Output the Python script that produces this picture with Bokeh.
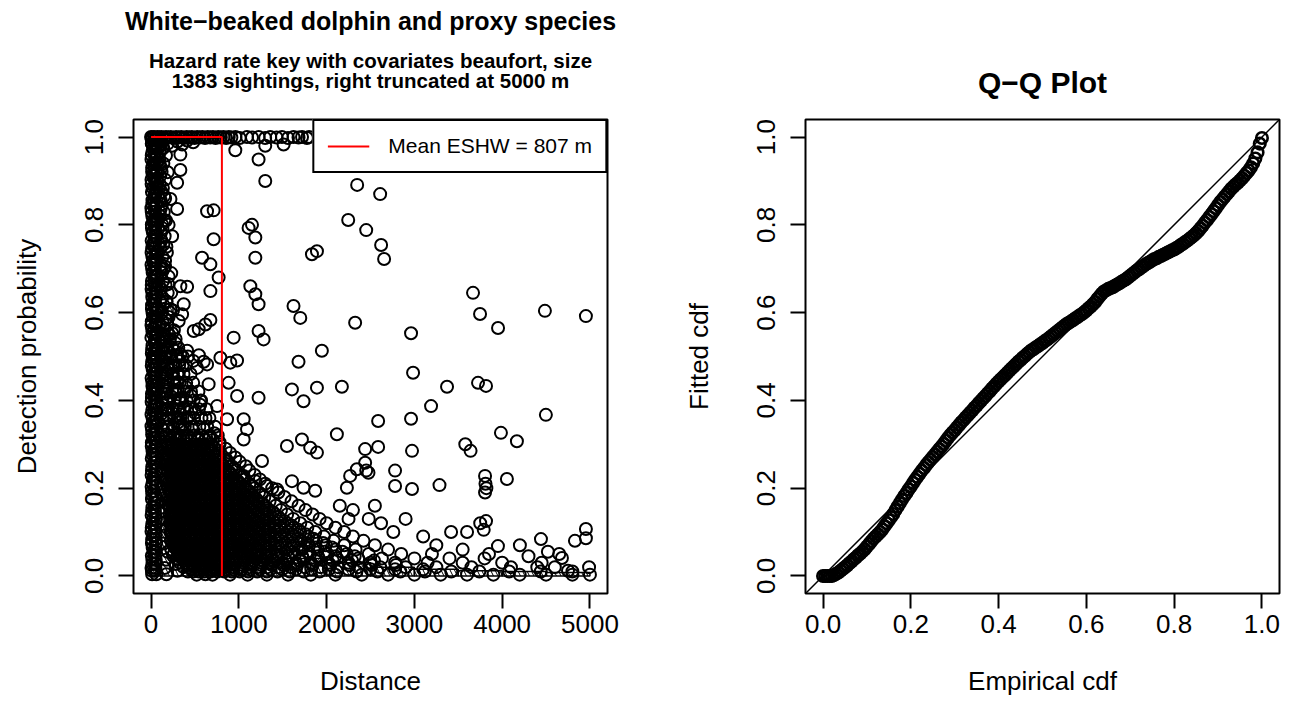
from bokeh.plotting import figure
from bokeh.layouts import row
from bokeh.models import Range1d, FixedTicker, LinearAxis, Legend, LegendItem, Slope, NumeralTickFormatter
from bokeh.embed import file_html
from bokeh.resources import INLINE

FONT = "Liberation Sans"

# ---------------- data ----------------
x_ticks = [0, 1000, 2000, 3000, 4000, 5000]
x_tick_labels = ["0", "1000", "2000", "3000", "4000", "5000"]
p_ticks = [0.0, 0.2, 0.4, 0.6, 0.8, 1.0]
p_tick_labels = ["0.0", "0.2", "0.4", "0.6", "0.8", "1.0"]

eshw = 807  # mean effective strip half width (m)

hist_edges = [0, 250, 500, 750, 1000, 1500, 2000, 2500, 3000, 3500, 4000, 4500, 5000]
hist_heights = [0.62, 0.30, 0.16, 0.10, 0.06, 0.04, 0.03, 0.02, 0.015, 0.012, 0.010, 0.008]

top_points = [(0, 1.0), (15, 0.999), (35, 1.0), (55, 0.998), (75, 1.0), (95, 0.999), (120, 1.0), (145, 0.998),
              (170, 1.0), (195, 0.999), (225, 1.0), (255, 0.998), (285, 1.0), (315, 0.999), (345, 1.0),
              (375, 0.998), (405, 1.0), (435, 0.999), (465, 1.0), (495, 0.998), (525, 1.0), (555, 0.999),
              (585, 1.0), (615, 0.998), (645, 1.0), (675, 0.999), (705, 1.0), (735, 0.998), (765, 1.0),
              (795, 0.999), (825, 1.0), (855, 0.998), (885, 1.0), (915, 0.999), (962, 1.0), (1010, 0.998),
              (1093, 1.0), (1150, 0.999), (1225, 1.0), (1300, 0.998), (1358, 1.0), (1430, 0.999),
              (1491, 1.0), (1560, 0.998), (1623, 1.0), (1680, 0.999), (1720, 1.0), (1776, 0.998), (1800, 1.0),
              (10, 0.985), (50, 0.98), (90, 0.99), (140, 0.975), (190, 0.985), (240, 0.98), (300, 0.99),
              (410, 0.992), (480, 0.988)]

col_y = [0.995, 0.975, 0.958, 0.94, 0.921, 0.903, 0.884, 0.866, 0.847, 0.829, 0.81, 0.792, 0.774, 0.755,
         0.737, 0.718, 0.7, 0.682, 0.663, 0.645, 0.626, 0.608, 0.59, 0.571, 0.553, 0.534, 0.516, 0.497,
         0.479, 0.461, 0.442, 0.424, 0.405, 0.387, 0.368, 0.35, 0.332, 0.313, 0.295, 0.276, 0.258, 0.24,
         0.221, 0.203, 0.184, 0.166, 0.147, 0.129, 0.11, 0.092, 0.074, 0.055, 0.037, 0.018, 0.004]
col_xa = [10, 25, 8, 30, 12, 5, 20, 35, 15, 8, 28, 10, 40, 18, 6, 22, 12, 35, 8, 15, 30, 10, 25, 5, 18, 40,
          12, 20, 8, 30, 15, 25, 10, 35, 5, 20, 12, 28, 8, 18, 30, 10, 22, 6, 15, 35, 12, 25, 8, 20, 10, 30,
          15, 5, 12]
col_xb = [70, 85, 60, 95, 75, 65, 90, 80, 55, 100, 70, 85, 60, 95, 78, 68, 110, 72, 90, 62, 105, 80, 66, 95,
          75, 115, 85, 70, 100, 120, 90, 78, 130, 95, 110, 85, 140, 100, 120, 150, 110, 130, 160, 120, 140,
          170, 150, 135, 180, 160, 145, 190, 170, 155, 175]
col_xc = [150, 130, 170, 140, 120, 160, 135, 150, 125, 145, 170, 130, 155, 140, 180, 160, 145, 200, 165, 190,
          175, 220, 200, 185, 240, 210, 260, 230, 280, 250, 300, 270, 320, 290, 340, 310, 360, 330, 400, 350,
          420, 380, 450, 410, 480, 440, 520, 470, 560, 500, 600, 540, 640, 580, 620]
col_xd = [45, 55, 40, 60, 50, 42, 58, 48, 62, 44, 52, 46, 56, 40, 60, 50, 44, 58, 48, 54, 42, 60, 46, 52,
          56, 44, 62, 48, 50, 58, 40, 54, 46, 60, 50, 44, 56, 48, 62, 42, 52, 58, 46, 54, 50, 60, 44, 56, 48,
          52, 58, 46, 54, 50, 60]

col2_y = [0.985, 0.966, 0.949, 0.93, 0.912, 0.893, 0.875, 0.856, 0.838, 0.82, 0.801, 0.783, 0.764, 0.746,
          0.727, 0.709, 0.691, 0.672, 0.654, 0.635, 0.617, 0.599, 0.58, 0.562, 0.543, 0.525, 0.507, 0.488,
          0.47, 0.451, 0.433, 0.415, 0.396, 0.378, 0.359, 0.341, 0.322, 0.304, 0.285, 0.267, 0.249, 0.23,
          0.212, 0.193, 0.175, 0.156, 0.138, 0.119, 0.101, 0.083, 0.064, 0.046, 0.027, 0.012]
col2_xa = [40, 45, 50, 38, 42, 55, 48, 35, 45, 52, 40, 48, 36, 44, 50, 42, 46, 38, 52, 44, 40, 48, 55, 36,
           45, 50, 42, 38, 48, 45, 52, 40, 46, 36, 50, 44, 42, 48, 38, 52, 45, 40, 50, 36, 46, 44, 48, 42, 38,
           50, 45, 40, 52, 44]
col2_xb = [110, 100, 95, 115, 105, 98, 120, 108, 112, 102, 125, 110, 118, 104, 130, 114, 122, 135, 110, 128,
           140, 118, 132, 150, 125, 145, 160, 138, 155, 170, 148, 165, 180, 160, 175, 195, 170, 190, 210, 185,
           205, 230, 200, 220, 250, 215, 240, 270, 235, 260, 290, 250, 280, 300]
col2_xc = [8, 15, 5, 12, 18, 6, 10, 16, 4, 14, 9, 20, 7, 12, 15, 5, 18, 10, 6, 14, 11, 17, 8, 13, 4, 16, 9,
           12, 19, 6, 15, 10, 7, 14, 18, 5, 12, 9, 16, 8, 13, 6, 17, 11, 10, 15, 7, 14, 5, 12, 18, 9, 16, 10]

mid_points = [(165, 0.585), (205, 0.55), (250, 0.605), (185, 0.52), (230, 0.5), (280, 0.53), (320, 0.49),
              (205, 0.47), (260, 0.45), (310, 0.462), (360, 0.48), (420, 0.5), (480, 0.49), (545, 0.503),
              (600, 0.488), (175, 0.43), (222, 0.41), (282, 0.422), (340, 0.4), (400, 0.43), (460, 0.41),
              (195, 0.38), (250, 0.37), (310, 0.36), (370, 0.383), (430, 0.362), (500, 0.372), (560, 0.39),
              (620, 0.36), (180, 0.34), (240, 0.33), (300, 0.322), (360, 0.342), (420, 0.32), (480, 0.332),
              (540, 0.315), (600, 0.335), (660, 0.315), (720, 0.325), (780, 0.305), (175, 0.625),
              (195, 0.665), (160, 0.705), (230, 0.645), (150, 0.49), (260, 0.56), (215, 0.6), (140, 0.55),
              (175, 0.75), (200, 0.8), (160, 0.86), (190, 0.92), (150, 0.81), (230, 0.69)]

sparse_points = [(354, 0.983), (334, 0.96), (960, 0.97), (1225, 0.949), (1301, 0.9), (1510, 0.983), (1301, 0.98),
                 (334, 0.925), (297, 0.896), (221, 0.859), (297, 0.836), (638, 0.831), (713, 0.833),
                 (1111, 0.793), (1150, 0.8), (1188, 0.771), (713, 0.767), (240, 0.774), (581, 0.725),
                 (676, 0.71), (1188, 0.725), (1833, 0.733), (1890, 0.74), (770, 0.68), (676, 0.649),
                 (334, 0.66), (411, 0.659), (1131, 0.66), (1188, 0.642), (1225, 0.619), (372, 0.619),
                 (354, 0.596), (315, 0.581), (486, 0.558), (543, 0.562), (619, 0.573), (676, 0.583),
                 (941, 0.543), (1225, 0.558), (1282, 0.539), (1623, 0.615), (1700, 0.588), (2325, 0.577),
                 (1946, 0.513), (1680, 0.488), (980, 0.491), (903, 0.486), (790, 0.497), (638, 0.482),
                 (524, 0.474), (411, 0.513), (334, 0.505), (1605, 0.425), (1737, 0.398), (1890, 0.429),
                 (2174, 0.431), (1225, 0.406), (884, 0.44), (980, 0.41), (752, 0.387), (656, 0.437),
                 (562, 0.399), (1055, 0.357), (1093, 0.334), (1055, 0.311), (866, 0.357), (1548, 0.296),
                 (1719, 0.311), (1813, 0.292), (1890, 0.281), (2117, 0.323), (2439, 0.289), (1264, 0.262),
                 (2439, 0.258), (2345, 0.243), (2477, 0.235), (2268, 0.228), (2231, 0.201), (1605, 0.216),
                 (1737, 0.201), (1870, 0.194), (1435, 0.197), (1321, 0.205), (1055, 0.228), (1188, 0.216),
                 (2348, 0.891), (2610, 0.87), (2246, 0.811), (2451, 0.788), (2621, 0.754), (2655, 0.722),
                 (3668, 0.645), (3748, 0.597), (3953, 0.565), (4487, 0.604), (4954, 0.592), (2962, 0.553),
                 (2985, 0.463), (3372, 0.431), (3725, 0.44), (3816, 0.433), (3190, 0.387), (2962, 0.358),
                 (2587, 0.353), (3580, 0.3), (3640, 0.285), (3986, 0.326), (4168, 0.307), (4498, 0.367),
                 (2973, 0.285), (2780, 0.24), (3805, 0.228), (3810, 0.21), (3820, 0.2), (4054, 0.221),
                 (3805, 0.19), (3286, 0.207), (2973, 0.198), (2780, 0.205), (2451, 0.24), (2587, 0.294),
                 (3750, 0.12), (3816, 0.125), (3790, 0.105), (4954, 0.107), (4954, 0.086), (4442, 0.084),
                 (4829, 0.08), (3600, 0.1), (3418, 0.1), (3952, 0.068), (4202, 0.07), (4521, 0.055),
                 (4681, 0.041), (2150, 0.16), (2300, 0.15), (2480, 0.13), (2620, 0.12), (2760, 0.1),
                 (2250, 0.13), (2550, 0.16), (2900, 0.13), (3100, 0.09), (3250, 0.07), (3550, 0.06),
                 (3850, 0.05), (4300, 0.045), (4650, 0.05), (4400, 0.02), (4750, 0.012)]

mid_rows = [
    (0.54, [160, 215, 280]),
    (0.52, [175, 240, 310]),
    (0.50, [165, 225, 290, 360]),
    (0.48, [185, 250, 320, 395]),
    (0.46, [170, 235, 300, 370, 450]),
    (0.44, [190, 255, 325, 400, 480]),
    (0.42, [175, 240, 305, 375, 455, 540]),
    (0.40, [195, 260, 330, 405, 485, 570]),
    (0.38, [180, 245, 310, 380, 460, 545, 630]),
    (0.36, [200, 265, 335, 410, 490, 575, 665]),
    (0.34, [185, 250, 315, 385, 465, 550, 640, 730]),
    (0.32, [205, 270, 340, 415, 495, 580, 670, 760]),
    (0.31, [230, 300, 375, 450, 530, 615, 705]),
]

low_rows = [
    (0.30, [170, 230, 290, 350, 415, 480, 545, 610, 690, 780]),
    (0.295, [185, 245, 310, 375, 440, 505, 575, 650]),
    (0.29, [200, 260, 320, 385, 450, 515, 580, 650, 730, 850]),
    (0.285, [215, 275, 340, 405, 470, 535, 605, 680, 760]),
    (0.28, [175, 235, 295, 360, 425, 490, 555, 625, 700, 790, 900]),
    (0.275, [190, 250, 315, 380, 445, 510, 580, 655, 735]),
    (0.27, [205, 265, 330, 395, 460, 525, 595, 665, 745, 830, 960]),
    (0.265, [220, 280, 345, 410, 475, 540, 610, 685, 765, 860]),
    (0.26, [180, 240, 300, 365, 430, 495, 560, 630, 705, 785, 870, 1010]),
    (0.255, [195, 255, 320, 385, 450, 515, 585, 655, 730, 810]),
    (0.25, [210, 270, 335, 400, 465, 530, 600, 670, 745, 825, 920, 1080]),
    (0.245, [225, 285, 350, 415, 480, 545, 615, 690, 765, 850, 940]),
    (0.24, [185, 245, 305, 370, 435, 500, 565, 635, 710, 790, 875, 970, 1120]),
    (0.235, [200, 260, 325, 390, 455, 520, 590, 660, 735, 815, 900]),
    (0.23, [215, 275, 340, 405, 470, 535, 605, 675, 750, 830, 915, 1020, 1180]),
    (0.225, [230, 290, 355, 420, 485, 550, 620, 695, 770, 855, 945, 1040]),
    (0.22, [190, 250, 310, 375, 440, 505, 570, 640, 715, 795, 880, 970, 1070, 1240]),
    (0.215, [205, 265, 330, 395, 460, 525, 595, 665, 740, 820, 905, 995]),
    (0.21, [220, 280, 345, 410, 475, 540, 610, 680, 755, 835, 920, 1010, 1120, 1300]),
    (0.205, [235, 295, 360, 425, 490, 555, 625, 700, 775, 860, 950, 1045, 1150]),
    (0.20, [195, 255, 315, 380, 445, 510, 575, 645, 720, 800, 885, 975, 1070, 1180, 1380]),
    (0.195, [210, 270, 335, 400, 465, 530, 600, 670, 745, 825, 910, 1000, 1100]),
    (0.19, [225, 285, 350, 415, 480, 545, 615, 685, 760, 840, 925, 1015, 1110, 1230, 1450]),
    (0.185, [240, 300, 365, 430, 495, 560, 630, 705, 780, 865, 955, 1050, 1150, 1260]),
    (0.18, [200, 260, 320, 385, 450, 515, 580, 650, 725, 805, 890, 980, 1070, 1170, 1290, 1520]),
    (0.175, [215, 275, 340, 405, 470, 535, 605, 675, 750, 830, 915, 1005, 1100, 1200]),
    (0.17, [230, 290, 355, 420, 485, 550, 620, 690, 765, 845, 930, 1020, 1115, 1220, 1350, 1600]),
    (0.165, [245, 305, 370, 435, 500, 565, 635, 710, 785, 870, 960, 1055, 1155, 1270]),
    (0.16, [205, 265, 325, 390, 455, 520, 585, 655, 730, 810, 895, 985, 1075, 1175, 1290, 1420, 1680]),
    (0.155, [220, 280, 345, 410, 475, 540, 610, 680, 755, 835, 920, 1010, 1105, 1210, 1320]),
    (0.15, [235, 295, 360, 425, 490, 555, 625, 695, 770, 850, 935, 1025, 1120, 1225, 1340, 1480, 1760]),
    (0.145, [250, 310, 375, 440, 505, 570, 640, 715, 790, 875, 965, 1060, 1160, 1270, 1390]),
    (0.14, [210, 270, 330, 395, 460, 525, 590, 660, 735, 815, 900, 990, 1080, 1180, 1290, 1410, 1550, 1840]),
    (0.135, [225, 285, 350, 415, 480, 545, 615, 685, 760, 840, 925, 1015, 1110, 1215, 1330, 1450]),
    (0.13, [240, 300, 365, 430, 495, 560, 630, 700, 775, 855, 940, 1030, 1125, 1230, 1345, 1470, 1620, 1920]),
    (0.125, [255, 315, 380, 445, 510, 575, 645, 720, 795, 880, 970, 1065, 1165, 1275, 1390, 1520]),
    (0.12, [215, 275, 335, 400, 465, 530, 595, 665, 740, 820, 905, 995, 1085, 1185, 1295, 1415, 1550, 1700,
            2000]),
    (0.115, [230, 290, 355, 420, 485, 550, 620, 690, 765, 845, 930, 1020, 1115, 1220, 1335, 1460, 1600]),
    (0.11, [245, 305, 370, 435, 500, 565, 635, 705, 780, 860, 945, 1035, 1130, 1235, 1350, 1475, 1620, 1780,
            2100]),
    (0.105, [260, 320, 385, 450, 515, 580, 650, 725, 800, 885, 975, 1070, 1170, 1280, 1400, 1530, 1680]),
    (0.10, [220, 280, 340, 405, 470, 535, 600, 670, 745, 825, 910, 1000, 1090, 1190, 1300, 1420, 1555, 1700,
            1870, 2200]),
    (0.095, [235, 295, 360, 425, 490, 555, 625, 695, 770, 850, 935, 1025, 1120, 1225, 1340, 1465, 1610, 1760]),
    (0.09, [250, 310, 375, 440, 505, 570, 640, 710, 785, 865, 950, 1040, 1135, 1240, 1355, 1480, 1625, 1790,
            1970, 2300]),
    (0.085, [265, 325, 390, 455, 520, 585, 655, 730, 805, 890, 980, 1075, 1175, 1285, 1405, 1540, 1690, 1850]),
    (0.08, [225, 285, 345, 410, 475, 540, 605, 675, 750, 830, 915, 1005, 1095, 1195, 1305, 1425, 1560, 1710,
            1880, 2080, 2420]),
    (0.075, [240, 300, 365, 430, 495, 560, 630, 700, 775, 855, 940, 1030, 1125, 1230, 1345, 1470, 1615, 1780,
             1960]),
    (0.07, [255, 315, 380, 445, 510, 575, 645, 715, 790, 870, 955, 1045, 1140, 1245, 1360, 1485, 1630, 1800,
            1990, 2200, 2550]),
    (0.065, [270, 330, 395, 460, 525, 590, 660, 735, 810, 895, 985, 1080, 1180, 1290, 1410, 1545, 1700, 1870,
             2060]),
    (0.06, [230, 290, 350, 415, 480, 545, 610, 680, 755, 835, 920, 1010, 1100, 1200, 1310, 1430, 1565, 1720,
            1900, 2100, 2330, 2700]),
    (0.055, [305, 365, 430, 495, 560, 630, 705, 780, 860, 945, 1035, 1130, 1235, 1350, 1475, 1620, 1790, 1980,
             2180]),
    (0.05, [260, 320, 385, 450, 515, 580, 650, 720, 795, 875, 960, 1050, 1145, 1250, 1365, 1490, 1640, 1810,
            2010, 2230, 2480, 2850, 3200]),
    (0.045, [340, 400, 465, 530, 600, 670, 745, 825, 910, 1000, 1095, 1195, 1305, 1425, 1560, 1720, 1900, 2100,
             2320]),
    (0.04, [295, 355, 420, 485, 550, 615, 685, 760, 840, 925, 1015, 1105, 1205, 1315, 1435, 1570, 1730, 1910,
            2120, 2360, 2630, 3000, 3400, 3800]),
    (0.035, [380, 440, 505, 575, 645, 720, 800, 885, 975, 1070, 1170, 1280, 1400, 1535, 1690, 1870, 2070, 2290,
             2540]),
    (0.03, [330, 390, 455, 520, 585, 655, 725, 800, 880, 965, 1055, 1150, 1255, 1370, 1500, 1650, 1820, 2020,
            2250, 2500, 2780, 3150, 3550, 4000, 4450]),
    (0.025, [420, 485, 550, 620, 695, 775, 860, 950, 1045, 1145, 1255, 1375, 1510, 1665, 1840, 2040, 2260, 2510,
             2790]),
    (0.02, [370, 430, 495, 560, 625, 695, 770, 850, 935, 1025, 1120, 1220, 1330, 1450, 1590, 1750, 1930, 2130,
            2360, 2610, 2900, 3250, 3650, 4100, 4600, 4990]),
    (0.015, [470, 535, 605, 680, 760, 845, 935, 1030, 1130, 1240, 1360, 1495, 1650, 1825, 2025, 2250, 2500,
             2780, 3100]),
    (0.01, [420, 480, 545, 610, 680, 755, 835, 920, 1010, 1105, 1210, 1320, 1440, 1580, 1740, 1920, 2120, 2340,
            2580, 2840, 3120, 3420, 3740, 4080, 4440, 4800]),
    (0.003, [520, 700, 900, 1100, 1320, 1560, 1820, 2100, 2400, 2700, 3000, 3300, 3600, 3900, 4200, 4500,
             4800, 5000]),
]

qq_empirical = [
    0.000, 0.005, 0.010, 0.015, 0.020, 0.025, 0.030, 0.035, 0.040, 0.045, 0.050, 0.055, 0.060, 0.065, 0.070,
    0.075, 0.080, 0.085, 0.090, 0.095, 0.100, 0.105, 0.110, 0.115, 0.120, 0.125, 0.130, 0.135, 0.140, 0.145,
    0.150, 0.155, 0.160, 0.165, 0.170, 0.175, 0.180, 0.185, 0.190, 0.195, 0.200, 0.205, 0.210, 0.215, 0.220,
    0.225, 0.230, 0.235, 0.240, 0.245, 0.250, 0.255, 0.260, 0.265, 0.270, 0.275, 0.280, 0.285, 0.290, 0.295,
    0.300, 0.305, 0.310, 0.315, 0.320, 0.325, 0.330, 0.335, 0.340, 0.345, 0.350, 0.355, 0.360, 0.365, 0.370,
    0.375, 0.380, 0.385, 0.390, 0.395, 0.400, 0.405, 0.410, 0.415, 0.420, 0.425, 0.430, 0.435, 0.440, 0.445,
    0.450, 0.455, 0.460, 0.465, 0.470, 0.475, 0.480, 0.485, 0.490, 0.495, 0.500, 0.505, 0.510, 0.515, 0.520,
    0.525, 0.530, 0.535, 0.540, 0.545, 0.550, 0.555, 0.560, 0.565, 0.570, 0.575, 0.580, 0.585, 0.590, 0.595,
    0.600, 0.605, 0.610, 0.615, 0.620, 0.625, 0.630, 0.635, 0.640, 0.645, 0.650, 0.655, 0.660, 0.665, 0.670,
    0.675, 0.680, 0.685, 0.690, 0.695, 0.700, 0.705, 0.710, 0.715, 0.720, 0.725, 0.730, 0.735, 0.740, 0.745,
    0.750, 0.755, 0.760, 0.765, 0.770, 0.775, 0.780, 0.785, 0.790, 0.795, 0.800, 0.805, 0.810, 0.815, 0.820,
    0.825, 0.830, 0.835, 0.840, 0.845, 0.850, 0.855, 0.860, 0.865, 0.870, 0.875, 0.880, 0.885, 0.890, 0.895,
    0.900, 0.905, 0.910, 0.915, 0.920, 0.925, 0.930, 0.935, 0.940, 0.945, 0.950, 0.955, 0.960, 0.965, 0.970,
    0.975, 0.980, 0.985, 0.990, 0.995, 1.000]
qq_fitted = [
    0.000, 0.000, 0.000, 0.000, 0.000, 0.002, 0.005, 0.008, 0.012, 0.016, 0.020, 0.024, 0.029, 0.033, 0.038,
    0.042, 0.047, 0.051, 0.056, 0.061, 0.067, 0.073, 0.079, 0.085, 0.090, 0.095, 0.100, 0.106, 0.113, 0.120,
    0.127, 0.134, 0.141, 0.150, 0.158, 0.166, 0.174, 0.182, 0.189, 0.197, 0.204, 0.212, 0.219, 0.226, 0.233,
    0.240, 0.246, 0.253, 0.259, 0.265, 0.271, 0.277, 0.283, 0.289, 0.295, 0.301, 0.308, 0.315, 0.321, 0.327,
    0.332, 0.338, 0.344, 0.350, 0.355, 0.361, 0.366, 0.372, 0.377, 0.383, 0.388, 0.394, 0.399, 0.405, 0.410,
    0.416, 0.421, 0.427, 0.432, 0.438, 0.443, 0.448, 0.453, 0.458, 0.463, 0.468, 0.473, 0.478, 0.483, 0.488,
    0.492, 0.497, 0.501, 0.506, 0.510, 0.514, 0.517, 0.521, 0.524, 0.528, 0.531, 0.535, 0.538, 0.542, 0.546,
    0.550, 0.554, 0.558, 0.562, 0.566, 0.570, 0.574, 0.577, 0.580, 0.583, 0.587, 0.590, 0.594, 0.597, 0.601,
    0.605, 0.610, 0.614, 0.619, 0.624, 0.631, 0.637, 0.643, 0.648, 0.651, 0.654, 0.656, 0.658, 0.661, 0.664,
    0.667, 0.670, 0.673, 0.676, 0.680, 0.684, 0.688, 0.692, 0.696, 0.699, 0.703, 0.706, 0.710, 0.713, 0.716,
    0.719, 0.722, 0.724, 0.727, 0.729, 0.732, 0.734, 0.737, 0.739, 0.742, 0.744, 0.747, 0.750, 0.754, 0.757,
    0.761, 0.764, 0.768, 0.772, 0.776, 0.781, 0.786, 0.792, 0.798, 0.805, 0.811, 0.818, 0.824, 0.831, 0.838,
    0.845, 0.852, 0.858, 0.864, 0.870, 0.876, 0.882, 0.887, 0.892, 0.896, 0.901, 0.906, 0.912, 0.918, 0.924,
    0.931, 0.940, 0.951, 0.965, 0.985, 0.998]

main_title = "White\u2212beaked dolphin and proxy species"
sub_title = "Hazard rate key with covariates beaufort, size\n1383 sightings, right truncated at 5000 m"
qq_title = "Q\u2212Q Plot"

# ---------------- layout constants ----------------
FRAME_W, FRAME_H = 474, 474
LEFT_B, P1_RIGHT_B, P2_RIGHT_B = 133, 65, 3
TOP_B, BOTTOM_B = 119, 125


def style(p, xticks, xlabels, yticks, ylabels, xtitle, ytitle, xfmt):
    p.grid.visible = False
    p.outline_line_color = "black"
    p.outline_line_width = 2
    p.outline_line_alpha = 1
    p.background_fill_color = "white"
    p.border_fill_color = "white"
    p.xaxis.ticker = FixedTicker(ticks=xticks)
    p.yaxis.ticker = FixedTicker(ticks=yticks)
    p.xaxis.formatter = NumeralTickFormatter(format=xfmt)
    p.yaxis.formatter = NumeralTickFormatter(format="0.0")
    p.xaxis.major_label_overrides = {t: l for t, l in zip(xticks, xlabels)}
    p.yaxis.major_label_overrides = {t: l for t, l in zip(yticks, ylabels)}
    for ax in (p.xaxis[0], p.yaxis[0]):
        ax.axis_line_color = None
        ax.major_tick_in = 0
        ax.major_tick_out = 15
        ax.major_tick_line_width = 2
        ax.major_tick_line_color = "black"
        ax.minor_tick_line_color = None
        ax.major_label_text_font = FONT
        ax.major_label_text_font_size = "26px"
        ax.major_label_text_color = "black"
        ax.axis_label_text_font = FONT
        ax.axis_label_text_font_size = "26px"
        ax.axis_label_text_font_style = "normal"
        ax.axis_label_text_color = "black"
    p.xaxis.axis_label = xtitle
    p.yaxis.axis_label = ytitle
    p.xaxis.major_label_standoff = 6
    p.yaxis.major_label_standoff = 15
    p.yaxis.major_label_orientation = "vertical"
    p.xaxis.axis_label_standoff = 30
    p.yaxis.axis_label_standoff = 41


def title_axis(text, size, standoff, line_height=1.2):
    # a tick-less axis above the frame, used only to carry a centred title text
    return LinearAxis(ticker=FixedTicker(ticks=[]), axis_label=text, axis_label_standoff=standoff,
                      axis_label_text_font=FONT, axis_label_text_font_size=size,
                      axis_label_text_font_style="bold", axis_label_text_color="black",
                      axis_label_text_line_height=line_height,
                      axis_line_color=None, major_tick_line_color=None, minor_tick_line_color=None,
                      major_tick_in=0, major_tick_out=0, minor_tick_in=0, minor_tick_out=0,
                      major_label_standoff=0)


common = dict(frame_width=FRAME_W, frame_height=FRAME_H, min_border_top=TOP_B, min_border_bottom=BOTTOM_B,
              min_border_left=LEFT_B, output_backend="svg", toolbar_location=None, tools="")

# ---------------- left panel ----------------
p1 = figure(x_range=Range1d(-200, 5200), y_range=Range1d(-0.04, 1.04), min_border_right=P1_RIGHT_B, **common)
style(p1, x_ticks, x_tick_labels, p_ticks, p_tick_labels, "Distance", "Detection probability", "0")

p1.quad(left=hist_edges[:-1], right=hist_edges[1:], bottom=0, top=hist_heights,
        fill_color=None, line_color="black", line_width=1.5,
        hatch_pattern="\\", hatch_color="black", hatch_weight=1, hatch_scale=9)

all_x, all_y = [], []
for pts in (top_points, mid_points, sparse_points):
    all_x += [a for a, b in pts]
    all_y += [b for a, b in pts]
for ys, xs in ((col_y, col_xa), (col_y, col_xb), (col_y, col_xc), (col_y, col_xd),
               (col2_y, col2_xa), (col2_y, col2_xb), (col2_y, col2_xc)):
    all_x += xs
    all_y += ys
for yv, xs in mid_rows + low_rows:
    all_x += xs
    all_y += [yv] * len(xs)
p1.scatter(all_x, all_y, marker="circle", size=12, fill_color=None, line_color="black", line_width=2)

eshw_x = [0, eshw, eshw]
eshw_y = [1, 1, 0]
r_eshw = p1.line(eshw_x, eshw_y, line_color="red", line_width=2)

legend = Legend(items=[LegendItem(label=f"Mean ESHW = {eshw} m", renderers=[r_eshw])],
                location="top_right", margin=0, padding=13, spacing=0,
                glyph_width=42, glyph_height=22, label_height=22, label_standoff=19,
                label_text_font=FONT, label_text_font_size="21px", label_text_color="black",
                border_line_color="black", border_line_width=2, border_line_alpha=1,
                background_fill_color="white", background_fill_alpha=1)
p1.add_layout(legend)

p1.add_layout(title_axis(sub_title, "20.5px", 28, 0.84), "above")
p1.add_layout(title_axis(main_title, "25px", 12), "above")

# ---------------- right panel ----------------
p2 = figure(x_range=Range1d(-0.04, 1.04), y_range=Range1d(-0.04, 1.04), min_border_right=P2_RIGHT_B, **common)
style(p2, p_ticks, p_tick_labels, p_ticks, p_tick_labels, "Empirical cdf", "Fitted cdf", "0.0")
p2.add_layout(Slope(gradient=1, y_intercept=0, line_color="black", line_width=1.5))
p2.scatter(qq_empirical, qq_fitted, marker="circle", size=11.5, fill_color=None,
           line_color="black", line_width=2.6)
p2.add_layout(title_axis(qq_title, "30px", 21), "above")

layout = row(p1, p2)
open("out.html", "w").write(file_html(layout, INLINE))
